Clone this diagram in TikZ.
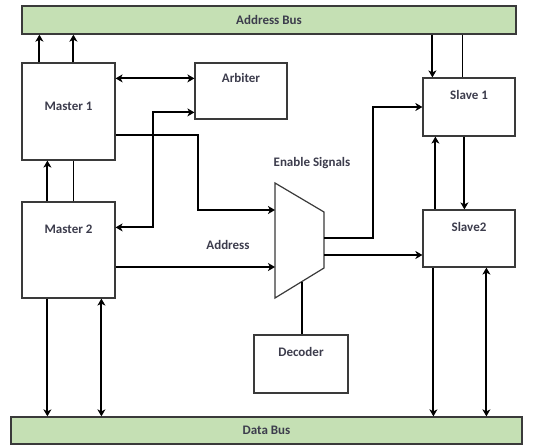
\documentclass[tikz,border=0pt]{standalone}
\usepackage{fontspec}
\setmainfont{Carlito}
\usetikzlibrary{arrows.meta, calc}
\definecolor{busgreen}{HTML}{C5E0B4}
\definecolor{edgegray}{HTML}{3A3A3A}
\definecolor{labelgray}{HTML}{3C3C4C}

\begin{document}
\begin{tikzpicture}[
  x=1pt, y=-1pt,
  every node/.style={font=\fontsize{13}{15}\selectfont\bfseries, text=labelgray},
  bus/.style={rectangle, draw=edgegray, line width=1.3pt, fill=busgreen, inner sep=0pt},
  unit/.style={rectangle, draw=edgegray, line width=1.2pt, fill=white, inner sep=0pt},
  tag/.style={below=#1},
  link/.style={line width=2pt, black},
  wire/.style={line width=1.4pt, black},
  arr/.style={link, -{Stealth[length=7pt, width=8pt, inset=2pt]}},
  dbl/.style={link, {Stealth[length=7pt, width=8pt, inset=2pt]}-{Stealth[length=7pt, width=8pt, inset=2pt]}},
]
  \useasboundingbox (0,0) rectangle (546,445);

  % buses
  \node[bus, minimum width=494pt, minimum height=28pt] (addrbus) at (269,20) {Address Bus};
  \node[bus, minimum width=511pt, minimum height=27pt] (databus) at (266.5,430.5) {Data Bus};

  % units
  \node[unit, minimum width=93pt, minimum height=97pt, label={[tag=36pt]north:Master 1}] (m1) at (68.5,111.5) {};
  \node[unit, minimum width=93pt, minimum height=96pt, label={[tag=20pt]north:Master 2}] (m2) at (68.5,250) {};
  \node[unit, minimum width=92pt, minimum height=56pt, label={[tag=7pt]north:Arbiter}] (arb) at (241,91) {};
  \node[unit, minimum width=92pt, minimum height=58pt, label={[tag=9pt]north:Slave 1}] (s1) at (469,107) {};
  \node[unit, minimum width=92pt, minimum height=57pt, label={[tag=9pt]north:Slave2}] (s2) at (469,238.5) {};
  \node[unit, minimum width=94pt, minimum height=58pt, label={[tag=9pt]north:Decoder}] (dec) at (301,364) {};

  % mux
  \coordinate (mux-tl) at (275,183);
  \coordinate (mux-tr) at (324,212);
  \coordinate (mux-br) at (324,268);
  \coordinate (mux-bl) at (275,298);
  \draw[edgegray, line width=1.2pt, fill=white] (mux-tl) -- (mux-tr) -- (mux-br) -- (mux-bl) -- cycle;
  \coordinate (mux-in1) at (275,210);
  \coordinate (mux-in2) at (275,267);
  \coordinate (mux-out1) at (324,238);
  \coordinate (mux-out2) at (324,255);
  \coordinate (mux-sel) at ($(mux-bl)!.55!(mux-br)$);

  \node (enable) at (312,163) {Enable Signals};
  \node (addr) at (228,245) {Address};

  % masters and address bus
  \draw[arr] ([xshift=18pt]m1.north west) -- ([xshift=18pt]m1.north west |- addrbus.south);
  \draw[arr] ([xshift=52pt]m1.north west) -- ([xshift=52pt]m1.north west |- addrbus.south);
  \draw[arr] ([xshift=26pt]m2.north west) -- ([xshift=26pt]m2.north west |- m1.south);
  \draw[wire] ([xshift=52pt]m2.north west) -- ([xshift=52pt]m2.north west |- m1.south);

  % arbiter
  \draw[dbl] ([yshift=-16pt]m1.north east) -- ([yshift=-16pt]m1.north east -| arb.west);
  \draw[dbl] ([yshift=-50pt]arb.north west) -- ++(-41pt,0) |- ([yshift=-26pt]m2.north east);

  % into the mux
  \draw[arr] ([yshift=-73pt]m1.north east) -- ++(82pt,0) |- (mux-in1);
  \draw[arr] (mux-in2 -| m2.east) -- (mux-in2);

  % out of the mux
  \draw[arr] (mux-out1) -- ++(49pt,0) |- (s1.west);
  \draw[arr] (mux-out2) -- (mux-out2 -| s2.west);
  \draw[wire] (mux-sel) -- (mux-sel |- dec.north);

  % slaves
  \draw[arr] ([xshift=10pt]s1.north west |- addrbus.south) -- ([xshift=10pt]s1.north west);
  \draw[wire] ([xshift=40pt]s1.north west |- addrbus.south) -- ([xshift=40pt]s1.north west);
  \draw[arr] ([xshift=13pt]s2.north west) -- ([xshift=13pt]s2.north west |- s1.south);
  \draw[arr] ([xshift=42pt]s1.south west) -- ([xshift=42pt]s1.south west |- s2.north);

  % data bus
  \draw[arr] ([xshift=11pt]s2.south west) -- ([xshift=11pt]s2.south west |- databus.north);
  \draw[dbl] ([xshift=64pt]s2.south west) -- ([xshift=64pt]s2.south west |- databus.north);
  \draw[arr] ([xshift=26pt]m2.south west) -- ([xshift=26pt]m2.south west |- databus.north);
  \draw[dbl] ([xshift=80pt]m2.south west) -- ([xshift=80pt]m2.south west |- databus.north);
\end{tikzpicture}
\end{document}
